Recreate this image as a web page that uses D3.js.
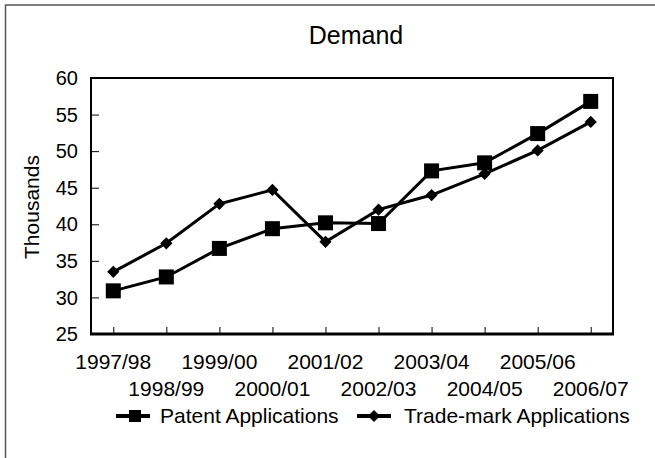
<meta charset="utf-8" />
<style>body { margin: 0; } svg { display: block; }</style>
<svg width="655" height="458"></svg>
<script src="https://cdn.jsdelivr.net/npm/d3@7"></script>
<script>
	var years = ['1997/98', '1998/99', '1999/00', '2000/01', '2001/02',
		'2002/03', '2003/04', '2004/05', '2005/06', '2006/07'];
	var patents = [30.9, 32.8, 36.7, 39.4, 40.2, 40.1, 47.3, 48.4, 52.4, 56.8];
	var trademarks = [33.5, 37.4, 42.8, 44.7, 37.6, 42.0, 44.0, 46.9, 50.1, 54.0];
	var yTicks = [25, 30, 35, 40, 45, 50, 55, 60];

	var font = 'Liberation Sans, Arial, sans-serif';
	var svg = d3.select('svg'),
		pLeft = 91, pRight = 613, pTop = 78, pBottom = 334;

	svg.append('rect')
		.attr('width', 655).attr('height', 458).attr('fill', '#fff');

	// outer chart border (runs off the right and bottom edge)
	svg.append('rect')
		.attr('x', 5.5).attr('y', 5).attr('width', 700).attr('height', 500)
		.attr('fill', 'none').attr('stroke', '#555').attr('stroke-width', 1.5);

	var x = d3.scalePoint().domain(years).range([pLeft, pRight]).padding(0.42);
	var y = d3.scaleLinear().domain([25, 60]).range([pBottom, pTop]);

	svg.append('text')
		.attr('x', 356).attr('y', 44)
		.attr('text-anchor', 'middle')
		.style('font', '25px ' + font)
		.text('Demand');

	// plot frame
	svg.append('rect')
		.attr('x', pLeft).attr('y', pTop)
		.attr('width', pRight - pLeft).attr('height', pBottom - pTop)
		.attr('fill', 'none').attr('stroke', '#000').attr('stroke-width', 2);

	// y axis, ticks point inward
	var yAxis = svg.append('g')
		.attr('transform', 'translate(' + pLeft + ',0)')
		.call(d3.axisRight(y).tickValues(yTicks).tickSize(8).tickFormat(''));
	yAxis.select('.domain').remove();
	svg.selectAll('.ylab').data(yTicks).enter().append('text')
		.attr('x', 78).attr('y', d => y(d))
		.attr('dy', '0.36em')
		.attr('text-anchor', 'end')
		.style('font', '20px ' + font)
		.text(d => d);

	// x axis, ticks point inward, labels staggered
	var xAxis = svg.append('g')
		.attr('transform', 'translate(0,' + pBottom + ')')
		.call(d3.axisTop(x).tickSize(7).tickFormat(''));
	xAxis.select('.domain').remove();
	svg.append('line')
		.attr('x1', pLeft - 1).attr('x2', pRight + 1)
		.attr('y1', pBottom).attr('y2', pBottom)
		.attr('stroke', '#000').attr('stroke-width', 3);
	svg.selectAll('.xlab').data(years).enter().append('text')
		.attr('x', d => x(d))
		.attr('y', (d, i) => i % 2 ? 396 : 369)
		.attr('text-anchor', 'middle')
		.style('font', '21px ' + font)
		.text(d => d);

	svg.append('text')
		.attr('transform', 'translate(39,207) rotate(-90)')
		.attr('text-anchor', 'middle')
		.style('font', '21px ' + font)
		.text('Thousands');

	var line = d3.line().x((d, i) => x(years[i])).y(d => y(d));
	var diamond = d3.symbol().type(d3.symbolDiamond2).size(95);

	svg.append('path').datum(patents)
		.attr('d', line).attr('fill', 'none')
		.attr('stroke', '#000').attr('stroke-width', 3);
	svg.selectAll('.sq').data(patents).enter().append('rect')
		.attr('x', (d, i) => x(years[i]) - 7.5)
		.attr('y', d => y(d) - 7.5)
		.attr('width', 15).attr('height', 15);

	svg.append('path').datum(trademarks)
		.attr('d', line).attr('fill', 'none')
		.attr('stroke', '#000').attr('stroke-width', 3);
	svg.selectAll('.dm').data(trademarks).enter().append('path')
		.attr('transform', (d, i) => 'translate(' + x(years[i]) + ',' + y(d) + ')')
		.attr('d', diamond);

	// legend
	var lg = svg.append('g').style('font', '21px ' + font);
	lg.append('line').attr('x1', 116).attr('x2', 150).attr('y1', 416).attr('y2', 416)
		.attr('stroke', '#000').attr('stroke-width', 4);
	lg.append('rect').attr('x', 129).attr('y', 410).attr('width', 12).attr('height', 12);
	lg.append('text').attr('x', 160).attr('y', 423).text('Patent Applications');
	lg.append('line').attr('x1', 357).attr('x2', 391).attr('y1', 416).attr('y2', 416)
		.attr('stroke', '#000').attr('stroke-width', 4);
	lg.append('path').attr('transform', 'translate(374,416)').attr('d', diamond);
	lg.append('text').attr('x', 404).attr('y', 423).text('Trade-mark Applications');
</script>
